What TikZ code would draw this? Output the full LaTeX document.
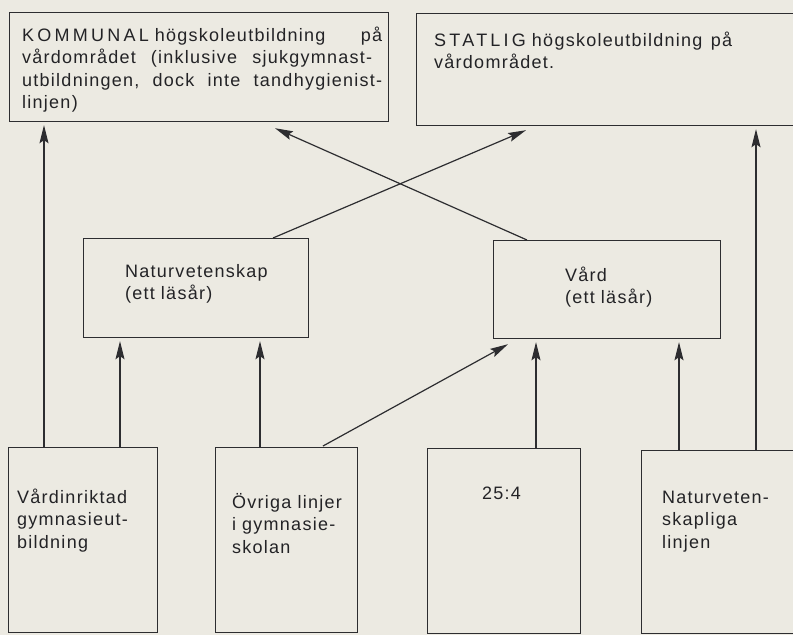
\documentclass[tikz,border=0pt]{standalone}
\usepackage{fontspec}
\setmainfont{Liberation Sans}[LetterSpace=7,WordSpace=1.5]
\usetikzlibrary{arrows.meta,calc}
\newcommand{\capsls}[1]{{\addfontfeature{LetterSpace=18}#1}}
\newcommand{\jline}[2]{\leavevmode\hbox to #1{#2}}
\definecolor{paper}{RGB}{236,234,226}
\definecolor{ink}{RGB}{45,45,48}
\definecolor{txt}{RGB}{35,35,38}
\tikzset{
  box/.style={draw=ink, line width=1.2pt, rectangle, inner sep=0pt, anchor=north west},
  lbl/.style={anchor=base west, inner sep=0pt, text width=400pt, align=left, text=txt,
              font=\fontsize{18}{22.5}\selectfont},
  arr/.style={draw=ink, line width=1.2pt, -{Stealth[length=18pt,width=9pt,inset=3pt]}},
  varr/.style={arr, shorten >=3pt}
}
\begin{document}
\begin{tikzpicture}[x=1pt,y=-1pt]
\fill[paper] (0,0) rectangle (793,635);
\useasboundingbox (0,0) rectangle (793,635);

% boxes
\node[box, minimum width=379pt, minimum height=109pt] (kom) at (9,12) {};
\node[box, minimum width=384pt, minimum height=112pt] (sta) at (416,13) {};
\node[box, minimum width=225pt, minimum height=99pt] (nat) at (83,238) {};
\node[box, minimum width=227pt, minimum height=98pt] (vard) at (493,240) {};
\node[box, minimum width=149pt, minimum height=185pt] (vg) at (8,447) {};
\node[box, minimum width=142pt, minimum height=185pt] (ov) at (215,447) {};
\node[box, minimum width=153pt, minimum height=185pt] (t25) at (427,448) {};
\node[box, minimum width=165pt, minimum height=183pt] (nl) at (641,450) {};

% texts
\node[lbl] (komt) at (22,41) {\jline{360pt}{\capsls{KOMMUNAL} högskoleutbildning\hfill på}\\\jline{350pt}{vårdområdet\hfill(inklusive\hfill sjukgymnast-}\\\jline{360pt}{utbildningen,\hfill dock\hfill inte\hfill tandhygienist-}\\linjen)};
\node[lbl] (stat) at (434,46) {\jline{298pt}{\capsls{STATLIG} högskoleutbildning\hfill på}\\vårdområdet.};
\node[lbl] (natt) at (125,277) {Naturvetenskap\\(ett läsår)};
\node[lbl] (vardt) at (565,281) {Vård\\(ett läsår)};
\node[lbl] (vgt) at (17,503) {Vårdinriktad\\gymnasieut-\\bildning};
\node[lbl] (ovt) at (232,508) {Övriga linjer\\i gymnasie-\\skolan};
\node[lbl] (t25t) at (482,499) {25:4};
\node[lbl] (nlt) at (662,503) {Naturveten-\\skapliga\\linjen};

% connectors
\draw[varr] ($(vg.north west)+(36,0)$) coordinate (a1) -- (a1 |- kom.south);
\draw[varr] ($(vg.north west)+(112,0)$) coordinate (a2) -- (a2 |- nat.south);
\draw[varr] ($(ov.north west)+(45,0)$) coordinate (a3) -- (a3 |- nat.south);
\draw[arr] ($(ov.north west)+(108,-1)$) -- ($(vard.south west)+(15,5)$);
\draw[varr] ($(t25.north west)+(109,0)$) coordinate (a5) -- (a5 |- vard.south);
\draw[varr] ($(nl.north west)+(38,0)$) coordinate (a6) -- (a6 |- vard.south);
\draw[varr] ($(nl.north west)+(115,0)$) coordinate (a7) -- (a7 |- sta.south);
\draw[arr] ($(nat.north west)+(190,0)$) -- ($(sta.south west)+(110,4)$);
\draw[arr] ($(vard.north west)+(34,0)$) -- ($(kom.south west)+(266,6)$);
\end{tikzpicture}
\end{document}
